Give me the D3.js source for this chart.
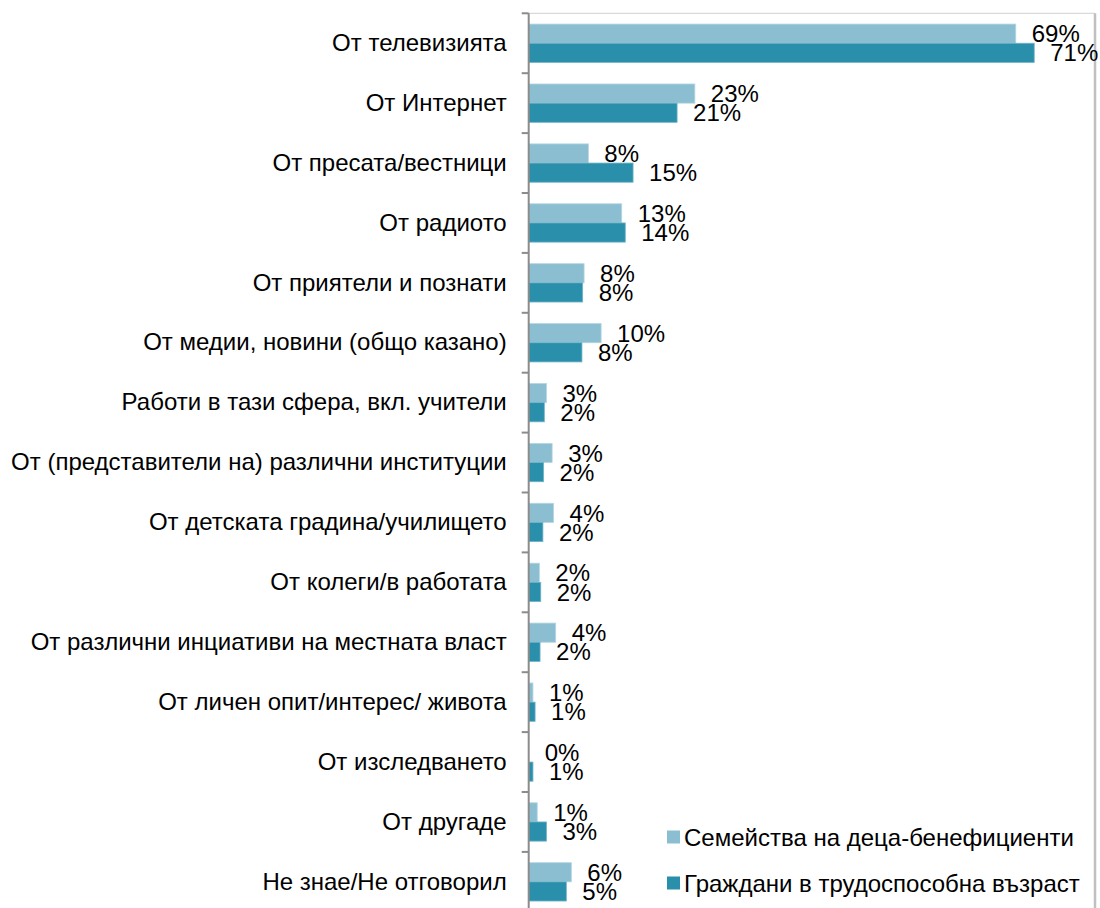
<!DOCTYPE html>
<html>
<head>
<meta charset="utf-8">
<script src="https://cdn.jsdelivr.net/npm/d3@7"></script>
<style>
  body { margin: 0; background: #fff; }
  svg { display: block; font-family: "Liberation Sans", Arial, sans-serif; }
</style>
</head>
<body>
<script>
const categories = [
    "От телевизията",
    "От Интернет",
    "От пресата/вестници",
    "От радиото",
    "От приятели и познати",
    "От медии, новини (общо казано)",
    "Работи в тази сфера, вкл. учители",
    "От (представители на) различни институции",
    "От детската градина/училището",
    "От колеги/в работата",
    "От различни инциативи на местната власт",
    "От личен опит/интерес/ живота",
    "От изследването",
    "От другаде",
    "Не знае/Не отговорил"
];
const seriesNames = ["Семейства на деца-бенефициенти", "Граждани в трудоспособна възраст"];
const families = [68.6, 23.4, 8.4, 13.1, 7.8, 10.2, 2.5, 3.3, 3.5, 1.5, 3.8, 0.6, 0, 1.2, 6.0];
const citizens = [71.2, 20.9, 14.7, 13.6, 7.6, 7.5, 2.2, 2.1, 2.0, 1.7, 1.6, 0.9, 0.6, 2.5, 5.3];
const colors = ["#8bbed0", "#2a8faa"];

const width = 1100, height = 908;
const axisX = 528.7, plotTop = 13.3, step = 59.9;
const plotBottom = plotTop + step * categories.length;
const fontSize = 24;

const svg = d3.select("body")
    .append("svg")
    .attr("width", width)
    .attr("height", height);

const rows = categories.map((c, i) => ({ cat: c, vals: [families[i], citizens[i]] }));

const x = d3.scaleLinear()
    .domain([0, 80])
    .range([axisX, axisX + 568]);

const y = d3.scaleBand()
    .domain(categories)
    .range([plotTop, plotBottom])
    .paddingInner(0.36)
    .paddingOuter(0.18);

const ySub = d3.scaleBand()
    .domain([0, 1])
    .range([0, y.bandwidth()]);

// plot area border (top and right)
svg.append("line")
    .attr("x1", axisX).attr("x2", 1095)
    .attr("y1", plotTop).attr("y2", plotTop)
    .attr("stroke", "#d9d9d9").attr("stroke-width", 1.2);
svg.append("line")
    .attr("x1", 1095).attr("x2", 1095)
    .attr("y1", plotTop).attr("y2", height)
    .attr("stroke", "#c0c0c0").attr("stroke-width", 2.5);

const groups = svg.selectAll("g.row")
    .data(rows)
    .enter()
    .append("g")
    .attr("class", "row")
    .attr("transform", d => `translate(0,${y(d.cat)})`);

groups.selectAll("rect")
    .data(d => d.vals)
    .enter()
    .append("rect")
    .attr("x", x(0))
    .attr("y", (v, i) => ySub(i))
    .attr("width", v => x(v) - x(0))
    .attr("height", ySub.bandwidth())
    .attr("fill", (v, i) => colors[i])
    .attr("stroke", (v, i) => v > 0 ? (i === 0 ? "#b3d6e2" : "#6fb3c8") : "none")
    .attr("stroke-width", 0.8);

groups.selectAll("text")
    .data(d => d.vals)
    .enter()
    .append("text")
    .attr("x", v => x(v) + 16)
    .attr("y", (v, i) => ySub(i) + ySub.bandwidth() / 2)
    .attr("dy", "0.36em")
    .attr("font-size", fontSize)
    .attr("fill", "#000")
    .text(v => Math.round(v) + "%");

// category axis
const axis = svg.append("g")
    .attr("transform", `translate(${axisX},0)`)
    .call(d3.axisLeft(y).tickSize(0).tickPadding(22));
axis.select(".domain").remove();
axis.selectAll("text")
    .attr("font-size", fontSize)
    .attr("font-family", "Liberation Sans, Arial, sans-serif")
    .attr("fill", "#000");

const tickYs = categories.map(c => y(c) - y.step() * y.paddingInner() / 2).concat([plotBottom]);
svg.selectAll("line.tick")
    .data(tickYs)
    .enter()
    .append("line")
    .attr("class", "tick")
    .attr("x1", axisX - 7).attr("x2", axisX)
    .attr("y1", d => d).attr("y2", d => d)
    .attr("stroke", "#8c8c8c").attr("stroke-width", 2);
svg.append("line")
    .attr("x1", axisX).attr("x2", axisX)
    .attr("y1", plotTop).attr("y2", plotBottom)
    .attr("stroke", "#8c8c8c").attr("stroke-width", 2);

// legend
const legend = svg.selectAll("g.legend")
    .data(seriesNames)
    .enter()
    .append("g")
    .attr("class", "legend")
    .attr("transform", (d, i) => `translate(667,${837 + i * 46})`);
legend.append("rect")
    .attr("x", 0).attr("y", -6.5)
    .attr("width", 13).attr("height", 13)
    .attr("fill", (d, i) => colors[i]);
legend.append("text")
    .attr("x", 17)
    .attr("dy", "0.36em")
    .attr("font-size", fontSize)
    .text(d => d);
</script>
</body>
</html>
